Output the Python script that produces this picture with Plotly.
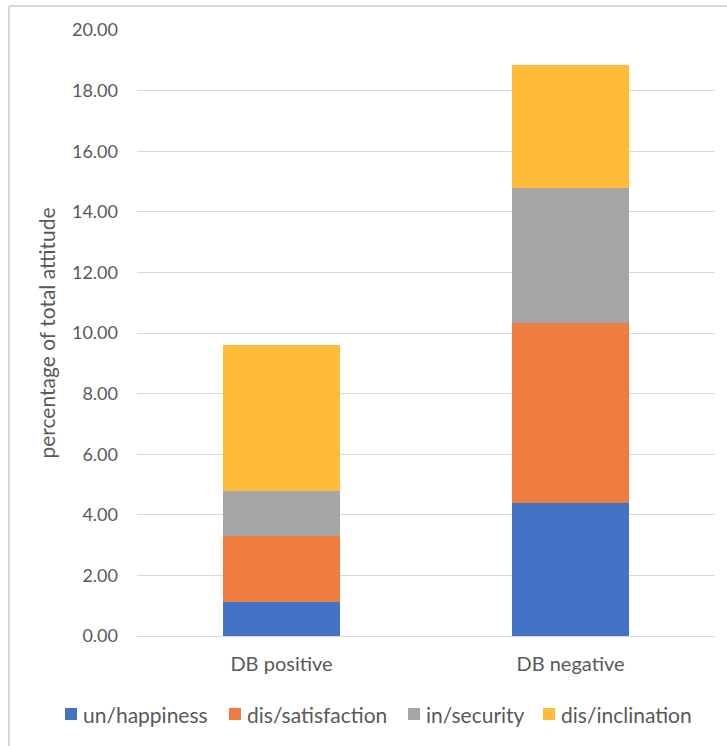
import plotly.graph_objects as go

# Attitude breakdown, stacked per DB group
categories = ["DB positive", "DB negative"]
series_names = ["un/happiness", "dis/satisfaction", "in/security", "dis/inclination"]
un_happiness = [1.12, 4.40]
dis_satisfaction = [2.17, 5.94]
in_security = [1.50, 4.44]
dis_inclination = [4.80, 4.05]
y_ticks = [0, 2, 4, 6, 8, 10, 12, 14, 16, 18, 20]

series_values = [un_happiness, dis_satisfaction, in_security, dis_inclination]
colors = ["#4472C4", "#F07D40", "#A5A5A5", "#FFBC38"]

FONT = "Lato"
TEXT = "#595959"
GRID = "#D9D9D9"

W, H = 727, 746
L, R, T, B = 137, 12, 30, 110
PW, PH = W - L - R, H - T - B


def px_x(px):
    return (px - L) / PW


def px_y(py):
    return (H - B - py) / PH


fig = go.Figure()
for name, vals, col in zip(series_names, series_values, colors):
    fig.add_trace(go.Bar(
        x=categories, y=vals, name=name,
        marker=dict(color=col, line=dict(width=0)),
        showlegend=False,
    ))

fig.update_layout(
    barmode="stack",
    bargap=0.595,
    width=W, height=H,
    margin=dict(l=L, r=R, t=T, b=B),
    paper_bgcolor="white", plot_bgcolor="white",
    font=dict(family=FONT, size=18, color=TEXT),
    xaxis=dict(
        showgrid=False, showline=True, linecolor=GRID, linewidth=1,
        ticks="", ticklabelstandoff=10,
        tickfont=dict(size=20, color=TEXT),
    ),
    yaxis=dict(
        range=[0, 20], tickvals=y_ticks, tickformat=".2f",
        showgrid=True, gridcolor=GRID, gridwidth=1,
        zeroline=False, showline=False, ticks="",
        ticklabelstandoff=18,
        tickfont=dict(size=18, color=TEXT),
        title=dict(text="percentage of total attitude",
                   font=dict(size=21, color=TEXT), standoff=10),
    ),
)

# legend row drawn as swatches plus labels
legend_swatch_px = [65, 229, 408, 543]
legend_y = 714
sw = 12
for name, col, sx in zip(series_names, colors, legend_swatch_px):
    fig.add_shape(type="rect", xref="paper", yref="paper",
                  x0=px_x(sx), x1=px_x(sx + sw),
                  y0=px_y(legend_y + sw / 2), y1=px_y(legend_y - sw / 2),
                  fillcolor=col, line=dict(width=0))
    fig.add_annotation(xref="paper", yref="paper",
                       x=px_x(sx + sw + 4), y=px_y(legend_y),
                       xanchor="left", yanchor="middle", showarrow=False,
                       text=name, font=dict(family=FONT, size=21, color=TEXT))

# light chart-area border along the left and top edges
fig.add_shape(type="line", xref="paper", yref="paper",
              x0=px_x(9), x1=px_x(W + 5), y0=px_y(6), y1=px_y(6),
              line=dict(color=GRID, width=2))
fig.add_shape(type="line", xref="paper", yref="paper",
              x0=px_x(9), x1=px_x(9), y0=px_y(H + 5), y1=px_y(6),
              line=dict(color=GRID, width=2))

fig.write_html("out.html")
